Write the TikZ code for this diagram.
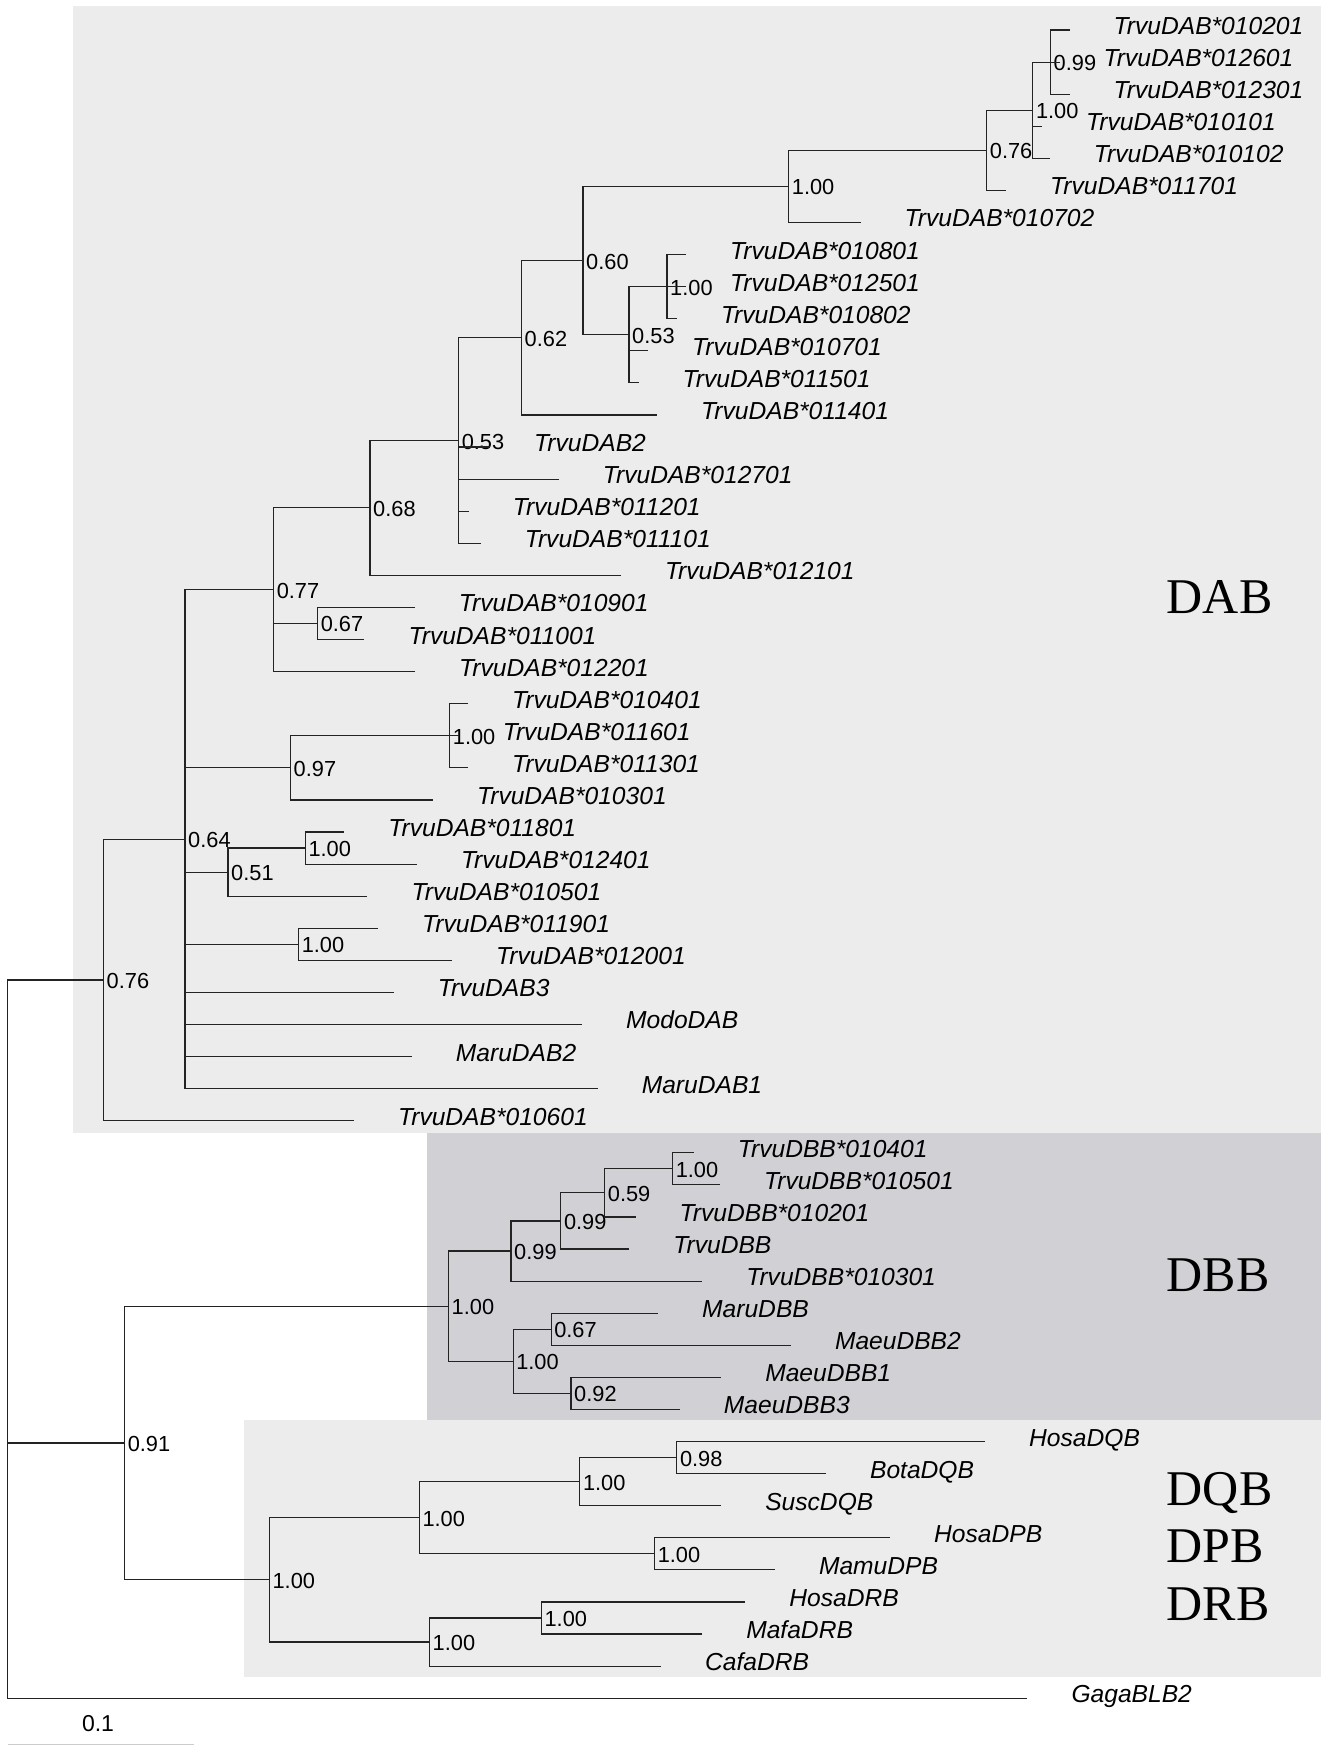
\documentclass[tikz,border=0pt]{standalone}
\usepackage{fontspec}
\setmainfont{Liberation Serif}
\setsansfont{Liberation Sans}
\definecolor{lightbox}{RGB}{236,236,236}
\definecolor{darkbox}{RGB}{209,208,212}
\definecolor{branchcol}{RGB}{35,35,35}
\newcommand\tipfont{\fontsize{24.6}{28}\selectfont\sffamily\itshape}
\newcommand\supfont{\fontsize{21.8}{25}\selectfont\sffamily}
\newcommand\grpfont{\fontsize{50}{55}\selectfont\rmfamily}
\newcommand\tipnode[3]{%
  \coordinate (t#1) at (#2,{30+32.08*#1});
  \node[tiplab] (l#1) at ([shift={(44pt,-4.5pt)}]t#1) {#3};}
\newcommand\inode[4]{%
  \coordinate (#1) at (#2,#3);
  \node[suplab] (s#1) at ([shift={(3pt,-1pt)}]#1) {#4};}
\begin{document}
\begin{tikzpicture}[x=1pt,y=-1pt,
  tiplab/.style={anchor=base west,inner sep=0pt,font=\tipfont},
  suplab/.style={anchor=west,inner sep=0pt,font=\supfont},
  grplab/.style={anchor=base west,inner sep=0pt,font=\grpfont},
  branch/.style={draw=branchcol,line width=1.15pt}]
\useasboundingbox (0,0) rectangle (1324,1746);
% clade boxes
\fill[lightbox] (73,6) rectangle (1320.5,1132.8);
\fill[darkbox] (427.4,1132.8) rectangle (1320.5,1420.3);
\fill[lightbox] (244.1,1420.3) rectangle (1320.5,1677.3);
% group labels
\node[grplab] (gDAB) at (1166.6,613.3) {DAB};
\node[grplab] (gDBB) at (1166.6,1291.7) {DBB};
\node[grplab] (gDQB) at (1166.6,1505) {DQB};
\node[grplab] (gDPB) at (1166.6,1562.7) {DPB};
\node[grplab] (gDRB) at (1166.6,1620) {DRB};
% tips
\tipnode{0}{1069.5}{TrvuDAB*010201}
\tipnode{1}{1059.5}{TrvuDAB*012601}
\tipnode{2}{1069.5}{TrvuDAB*012301}
\tipnode{3}{1042}{TrvuDAB*010101}
\tipnode{4}{1049.7}{TrvuDAB*010102}
\tipnode{5}{1006}{TrvuDAB*011701}
\tipnode{6}{860.5}{TrvuDAB*010702}
\tipnode{7}{686}{TrvuDAB*010801}
\tipnode{8}{686}{TrvuDAB*012501}
\tipnode{9}{676.8}{TrvuDAB*010802}
\tipnode{10}{648}{TrvuDAB*010701}
\tipnode{11}{638.5}{TrvuDAB*011501}
\tipnode{12}{657}{TrvuDAB*011401}
\tipnode{13}{490}{TrvuDAB2}
\tipnode{14}{558.7}{TrvuDAB*012701}
\tipnode{15}{468.7}{TrvuDAB*011201}
\tipnode{16}{480.6}{TrvuDAB*011101}
\tipnode{17}{620.8}{TrvuDAB*012101}
\tipnode{18}{414.7}{TrvuDAB*010901}
\tipnode{19}{364.4}{TrvuDAB*011001}
\tipnode{20}{415}{TrvuDAB*012201}
\tipnode{21}{467.9}{TrvuDAB*010401}
\tipnode{22}{458.6}{TrvuDAB*011601}
\tipnode{23}{467.9}{TrvuDAB*011301}
\tipnode{24}{432.9}{TrvuDAB*010301}
\tipnode{25}{344.2}{TrvuDAB*011801}
\tipnode{26}{416.8}{TrvuDAB*012401}
\tipnode{27}{367.4}{TrvuDAB*010501}
\tipnode{28}{378}{TrvuDAB*011901}
\tipnode{29}{451.9}{TrvuDAB*012001}
\tipnode{30}{393.6}{TrvuDAB3}
\tipnode{31}{582}{ModoDAB}
\tipnode{32}{411.7}{MaruDAB2}
\tipnode{33}{597.6}{MaruDAB1}
\tipnode{34}{353.9}{TrvuDAB*010601}
\tipnode{35}{693.7}{TrvuDBB*010401}
\tipnode{36}{719.9}{TrvuDBB*010501}
\tipnode{37}{635.5}{TrvuDBB*010201}
\tipnode{38}{629.2}{TrvuDBB}
\tipnode{39}{702.1}{TrvuDBB*010301}
\tipnode{40}{658}{MaruDBB}
\tipnode{41}{790.8}{MaeuDBB2}
\tipnode{42}{721.1}{MaeuDBB1}
\tipnode{43}{679.7}{MaeuDBB3}
\tipnode{44}{985}{HosaDQB}
\tipnode{45}{825.9}{BotaDQB}
\tipnode{46}{721.1}{SuscDQB}
\tipnode{47}{890}{HosaDPB}
\tipnode{48}{774.8}{MamuDPB}
\tipnode{49}{745.2}{HosaDRB}
\tipnode{50}{702.1}{MafaDRB}
\tipnode{51}{661}{CafaDRB}
\tipnode{52}{1027.3}{GagaBLB2}
% internal nodes
\coordinate (R) at (7.6,1339.06);
\inode{n099}{1050.5}{62.08}{0.99}
\inode{n100b}{1032.8}{110.2}{1.00}
\inode{n076b}{986.7}{150.3}{0.76}
\inode{n100a}{788.7}{186.39}{1.00}
\inode{n100c}{667}{286.64}{1.00}
\inode{n053i}{629}{334.76}{0.53}
\inode{n060}{583}{260.58}{0.60}
\inode{n062}{521.5}{337.77}{0.62}
\inode{n053o}{458.6}{440.5}{0.53}
\inode{n068}{370}{507.9}{0.68}
\inode{n067}{317.6}{623.48}{0.67}
\inode{n077}{273.6}{589.75}{0.77}
\inode{n100d}{449.7}{735.76}{1.00}
\inode{n097}{290.5}{767.84}{0.97}
\inode{n100e}{305.3}{848.04}{1.00}
\inode{n051}{228}{872.1}{0.51}
\inode{n100f}{298.6}{944.28}{1.00}
\inode{n064}{185}{839.2}{0.64}
\inode{nDAB}{103.5}{979.96}{0.76}
\inode{n100g}{672.6}{1168.84}{1.00}
\inode{n059}{604.7}{1192.9}{0.59}
\inode{n099i}{560.8}{1220.97}{0.99}
\inode{n099o}{511}{1251.05}{0.99}
\inode{n067b}{551.1}{1329.24}{0.67}
\inode{n092}{571}{1393.4}{0.92}
\inode{n100h}{513.1}{1361.32}{1.00}
\inode{nDBB}{448.5}{1306.19}{1.00}
\inode{n098}{676.8}{1457.56}{0.98}
\inode{n100i}{579.8}{1481.62}{1.00}
\inode{n100j}{654.6}{1553.8}{1.00}
\inode{n100k}{419.3}{1517.71}{1.00}
\inode{n100l}{541.4}{1617.96}{1.00}
\inode{n100m}{429.5}{1642.02}{1.00}
\inode{n100n}{269.4}{1579.87}{1.00}
\inode{n091}{124.6}{1443.03}{0.91}
% branches
\path[branch]
  (n099) |- (t0) (n099) |- (t1) (n099) |- (t2)
  (n100b) |- (n099) (n100b) |- (t3) (n100b) |- (t4)
  (n076b) |- (n100b) (n076b) |- (t5)
  (n100a) |- (n076b) (n100a) |- (t6)
  (n100c) |- (t7) (n100c) |- (t8) (n100c) |- (t9)
  (n053i) |- (n100c) (n053i) |- (t10) (n053i) |- (t11)
  (n060) |- (n100a) (n060) |- (n053i)
  (n062) |- (n060) (n062) |- (t12)
  (n053o) |- (n062) (n053o) |- (t13) (n053o) |- (t14) (n053o) |- (t15) (n053o) |- (t16)
  (n068) |- (n053o) (n068) |- (t17)
  (n067) |- (t18) (n067) |- (t19)
  (n077) |- (n068) (n077) |- (n067) (n077) |- (t20)
  (n100d) |- (t21) (n100d) |- (t22) (n100d) |- (t23)
  (n097) |- (n100d) (n097) |- (t24)
  (n100e) |- (t25) (n100e) |- (t26)
  (n051) |- (n100e) (n051) |- (t27)
  (n100f) |- (t28) (n100f) |- (t29)
  (n064) |- (n077) (n064) |- (n097) (n064) |- (n051) (n064) |- (n100f)
  (n064) |- (t30) (n064) |- (t31) (n064) |- (t32) (n064) |- (t33)
  (nDAB) |- (n064) (nDAB) |- (t34)
  (n100g) |- (t35) (n100g) |- (t36)
  (n059) |- (n100g) (n059) |- (t37)
  (n099i) |- (n059) (n099i) |- (t38)
  (n099o) |- (n099i) (n099o) |- (t39)
  (n067b) |- (t40) (n067b) |- (t41)
  (n092) |- (t42) (n092) |- (t43)
  (n100h) |- (n067b) (n100h) |- (n092)
  (nDBB) |- (n099o) (nDBB) |- (n100h)
  (n098) |- (t44) (n098) |- (t45)
  (n100i) |- (n098) (n100i) |- (t46)
  (n100j) |- (t47) (n100j) |- (t48)
  (n100k) |- (n100i) (n100k) |- (n100j)
  (n100l) |- (t49) (n100l) |- (t50)
  (n100m) |- (n100l) (n100m) |- (t51)
  (n100n) |- (n100k) (n100n) |- (n100m)
  (n091) |- (nDBB) (n091) |- (n100n)
  (R) |- (nDAB) (R) |- (n091) (R) |- (t52);
% scale bar
\coordinate (sb1) at (8.4,1744.6);
\coordinate (sb2) at (194.3,1744.6);
\draw[black!20,line width=1.6pt] (sb1) -- (sb2);
\node[font=\fontsize{23}{26}\selectfont\sffamily,inner sep=0pt] (sbl) at (98,1723.3) {0.1};
\end{tikzpicture}
\end{document}
